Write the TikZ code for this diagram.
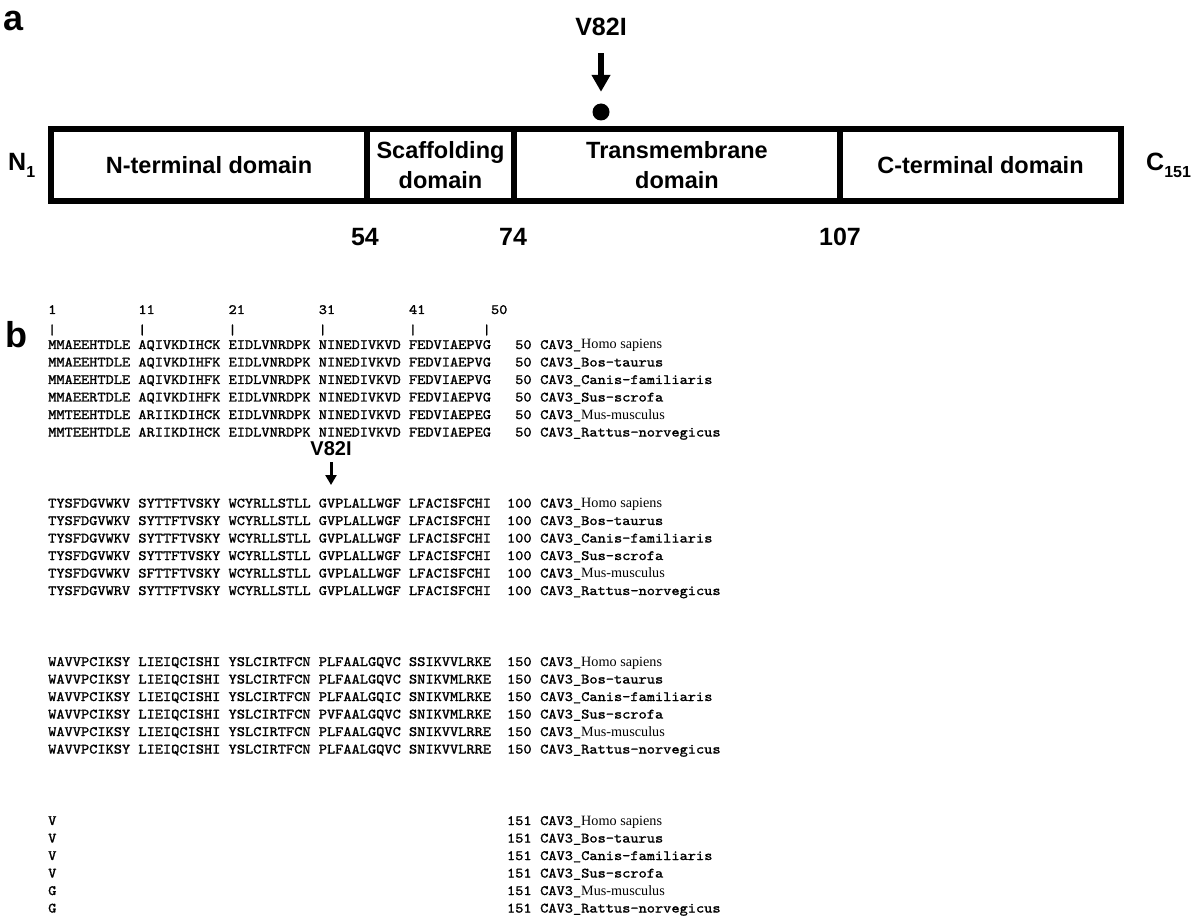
\documentclass[tikz,border=0pt]{standalone}
\usepackage{fontspec}
\setmainfont{Liberation Serif}
\setsansfont{Liberation Sans}
\setmonofont{lmmono10-regular.otf}[FakeStretch=1.1, FakeBold=1.5]
\usetikzlibrary{arrows.meta}
\newcommand\sqrow[5]{%
  \node[seqtxt] (#1s) at (48,#2) {#3};
  \node[seqtxt, anchor=base east] (#1n) at (531.8,#2) {#4};
  \node[seqtxt] (#1c) at (540,#2) {CAV3\_#5};}
\newcommand\srf[1]{{\rmfamily #1}}
\newcommand\tickat[2]{% name, col
  \node[seqtxt, anchor=center] (#1t) at ({48+8.2*#2+4.1},330) {|};}
\begin{document}
\begin{tikzpicture}[x=1pt,y=-1pt,
  seqtxt/.style={font=\ttfamily\fontsize{14.2}{16}\selectfont, inner sep=0pt, anchor=base west},
  panel/.style={font=\sffamily\bfseries\fontsize{36}{40}\selectfont, inner sep=0pt},
  lab/.style={font=\sffamily\bfseries\fontsize{25}{30}\selectfont, inner sep=0pt},
  dombox/.style={draw, line width=6pt, minimum height=72pt, inner sep=0pt, align=center,
     font=\sffamily\bfseries\fontsize{23.5}{30}\selectfont},
  bigarrow/.style={line width=6pt, -{Triangle[width=18pt,length=17pt]}},
  smallarrow/.style={line width=3pt, -{Triangle[width=11pt,length=10pt]}}]
\useasboundingbox (0,0) rectangle (1200,917);
% ---------- panel a ----------
\node[panel] (pa) at (14,21) {a};
\node[lab] (va) at (601,27) {V82I};
\node[circle, fill, inner sep=0pt, minimum size=17pt] (dot) at (601,112) {};
\draw[bigarrow, shorten <=17pt, shorten >=11.5pt] (va.south) -- (dot.north);
\node[dombox, minimum width=316pt] (nd) at (209,165) {N-terminal domain};
\node[dombox, minimum width=147pt] (sd) at (440.5,165) {Scaffolding\\domain};
\node[dombox, minimum width=326pt] (td) at (677,165) {Transmembrane\\domain};
\node[dombox, minimum width=281pt] (cd) at (980.5,165) {C-terminal domain};
\node[lab, anchor=west] (nt) at (8,165) {N\raisebox{-7pt}{\fontsize{16}{16}\selectfont 1}};
\node[lab, anchor=west] (ct) at (1146,165) {C\raisebox{-7pt}{\fontsize{16}{16}\selectfont 151}};
\node[lab] (n54) at (365,237) {54};
\node[lab] (n74) at (513,237) {74};
\node[lab] (n107) at (840,237) {107};
% ---------- panel b ----------
\node[panel] (pb) at (16,335) {b};
\node[seqtxt] (p1) at ({48+8.2*0},314) {1};
\node[seqtxt] (p11) at ({48+8.2*11},314) {11};
\node[seqtxt] (p21) at ({48+8.2*22},314) {21};
\node[seqtxt] (p31) at ({48+8.2*33},314) {31};
\node[seqtxt] (p41) at ({48+8.2*44},314) {41};
\node[seqtxt] (p50) at ({48+8.2*54},314) {50};
\tickat{a}{0}
\tickat{b}{11}
\tickat{c}{22}
\tickat{d}{33}
\tickat{e}{44}
\tickat{f}{53}
% block 1
\sqrow{ai}{349}{MMAEEHTDLE AQIVKDIHCK EIDLVNRDPK NINEDIVKVD FEDVIAEPVG}{50}{\srf{Homo sapiens}}
\sqrow{aii}{366.5}{MMAEEHTDLE AQIVKDIHFK EIDLVNRDPK NINEDIVKVD FEDVIAEPVG}{50}{Bos-taurus}
\sqrow{aiii}{384}{MMAEEHTDLE AQIVKDIHFK EIDLVNRDPK NINEDIVKVD FEDVIAEPVG}{50}{Canis-familiaris}
\sqrow{aiv}{401.5}{MMAEERTDLE AQIVKDIHFK EIDLVNRDPK NINEDIVKVD FEDVIAEPVG}{50}{Sus-scrofa}
\sqrow{av}{419}{MMTEEHTDLE ARIIKDIHCK EIDLVNRDPK NINEDIVKVD FEDVIAEPEG}{50}{\srf{Mus-musculus}}
\sqrow{avi}{436.5}{MMTEEHTDLE ARIIKDIHCK EIDLVNRDPK NINEDIVKVD FEDVIAEPEG}{50}{Rattus-norvegicus}
% mutation marker
\node[lab, font=\sffamily\bfseries\fontsize{20}{24}\selectfont] (vb) at (331,449) {V82I};
\coordinate (vbt) at (331,485);
\draw[smallarrow, shorten <=6pt] (vb.south) -- (vbt);
% block 2
\sqrow{bi}{507.5}{TYSFDGVWKV SYTTFTVSKY WCYRLLSTLL GVPLALLWGF LFACISFCHI}{100}{\srf{Homo sapiens}}
\sqrow{bii}{525}{TYSFDGVWKV SYTTFTVSKY WCYRLLSTLL GVPLALLWGF LFACISFCHI}{100}{Bos-taurus}
\sqrow{biii}{542.5}{TYSFDGVWKV SYTTFTVSKY WCYRLLSTLL GVPLALLWGF LFACISFCHI}{100}{Canis-familiaris}
\sqrow{biv}{560}{TYSFDGVWKV SYTTFTVSKY WCYRLLSTLL GVPLALLWGF LFACISFCHI}{100}{Sus-scrofa}
\sqrow{bv}{577.5}{TYSFDGVWKV SFTTFTVSKY WCYRLLSTLL GVPLALLWGF LFACISFCHI}{100}{\srf{Mus-musculus}}
\sqrow{bvi}{595}{TYSFDGVWRV SYTTFTVSKY WCYRLLSTLL GVPLALLWGF LFACISFCHI}{100}{Rattus-norvegicus}
% block 3
\sqrow{ci}{666}{WAVVPCIKSY LIEIQCISHI YSLCIRTFCN PLFAALGQVC SSIKVVLRKE}{150}{\srf{Homo sapiens}}
\sqrow{cii}{683.5}{WAVVPCIKSY LIEIQCISHI YSLCIRTFCN PLFAALGQVC SNIKVMLRKE}{150}{Bos-taurus}
\sqrow{ciii}{701}{WAVVPCIKSY LIEIQCISHI YSLCIRTFCN PLFAALGQIC SNIKVMLRKE}{150}{Canis-familiaris}
\sqrow{civ}{718.5}{WAVVPCIKSY LIEIQCISHI YSLCIRTFCN PVFAALGQVC SNIKVMLRKE}{150}{Sus-scrofa}
\sqrow{cv}{736}{WAVVPCIKSY LIEIQCISHI YSLCIRTFCN PLFAALGQVC SNIKVVLRRE}{150}{\srf{Mus-musculus}}
\sqrow{cvi}{753.5}{WAVVPCIKSY LIEIQCISHI YSLCIRTFCN PLFAALGQVC SNIKVVLRRE}{150}{Rattus-norvegicus}
% block 4
\sqrow{di}{825}{V}{151}{\srf{Homo sapiens}}
\sqrow{dii}{842.5}{V}{151}{Bos-taurus}
\sqrow{diii}{860}{V}{151}{Canis-familiaris}
\sqrow{div}{877.5}{V}{151}{Sus-scrofa}
\sqrow{dv}{895}{G}{151}{\srf{Mus-musculus}}
\sqrow{dvi}{912.5}{G}{151}{Rattus-norvegicus}
\end{tikzpicture}
\end{document}
